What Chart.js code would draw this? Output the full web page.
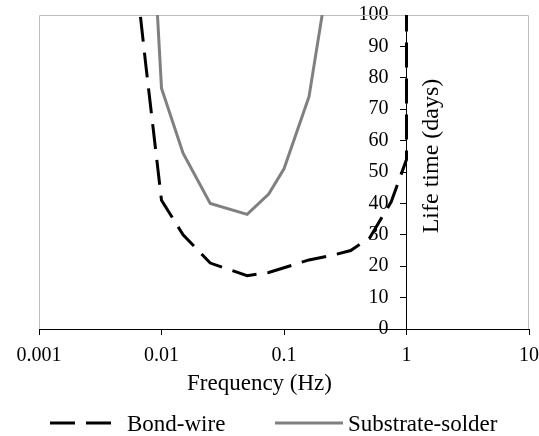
<!DOCTYPE html>
<html>
<head>
<meta charset="utf-8">
<script src="https://cdn.jsdelivr.net/npm/chart.js@4/dist/chart.umd.min.js"></script>
<style>
  html, body { margin: 0; padding: 0; background: #fff; }
  #wrap { width: 539px; height: 436px; position: relative; }
</style>
</head>
<body>
<div id="wrap"><canvas id="c" width="539" height="436"></canvas></div>
<script>
// ---- data ----
const bondFreq   = [0.005, 0.0075, 0.01, 0.015, 0.025, 0.05, 0.075, 0.1, 0.16, 0.25, 0.35, 0.5, 0.75, 1, 1];
const bondLife   = [145,   83,     41,   30,    21,    17,   18,    19.5, 22,  23.5, 25,   29,  40.5, 54, 160];
const solderFreq = [0.0075, 0.01, 0.015, 0.025, 0.05, 0.075, 0.1, 0.16, 0.25];
const solderLife = [165,    76.7, 56,    40,    36.5, 43,    51,  74,   121];
const xTickValues = [0.001, 0.01, 0.1, 1, 10];
const xTickLabels = ['0.001', '0.01', '0.1', '1', '10'];
const seriesNames = ['Bond-wire', 'Substrate-solder'];
const xTitle = 'Frequency (Hz)';
const yTitle = 'Life time (days)';

const SERIF = '"Liberation Serif", "Times New Roman", serif';

const framePlugin = {
  id: 'frame',
  beforeDatasetsDraw(chart) {
    const {ctx, chartArea: a} = chart;
    ctx.save();
    ctx.strokeStyle = '#bfbfbf';
    ctx.lineWidth = 1;
    ctx.beginPath();
    ctx.moveTo(Math.round(a.left) + 0.5, Math.round(a.bottom));
    ctx.lineTo(Math.round(a.left) + 0.5, Math.round(a.top) + 0.5);
    ctx.lineTo(Math.round(a.right) - 0.5, Math.round(a.top) + 0.5);
    ctx.lineTo(Math.round(a.right) - 0.5, Math.round(a.bottom));
    ctx.stroke();
    ctx.restore();
  },
  afterDraw(chart) {
    const {ctx} = chart;
    ctx.save();
    ctx.fillStyle = '#000';
    // x title
    ctx.font = '23px ' + SERIF;
    ctx.textAlign = 'center';
    ctx.textBaseline = 'alphabetic';
    ctx.fillText(xTitle, 259.5, 390);
    // y title
    ctx.save();
    ctx.font = '24px ' + SERIF;
    ctx.translate(438, 156);
    ctx.rotate(-Math.PI / 2);
    ctx.fillText(yTitle, 0, 0);
    ctx.restore();
    // legend
    const ds = chart.data.datasets;
    const items = [
      {x1: 50, x2: 112, tx: 127},
      {x1: 275, x2: 343, tx: 348}
    ];
    const ly = 423;
    items.forEach((it, i) => {
      ctx.save();
      ctx.strokeStyle = ds[i].borderColor;
      ctx.lineWidth = ds[i].borderWidth;
      ctx.setLineDash(ds[i].borderDash || []);
      ctx.beginPath();
      ctx.moveTo(it.x1, ly);
      ctx.lineTo(it.x2, ly);
      ctx.stroke();
      ctx.restore();
      ctx.textAlign = 'left';
      ctx.textBaseline = 'alphabetic';
      ctx.fillText(seriesNames[i], it.tx, ly + 8);
    });
    ctx.restore();
  }
};

new Chart(document.getElementById('c'), {
  type: 'line',
  data: {
    datasets: [
      {
        label: seriesNames[0],
        data: bondFreq.map((f, i) => ({x: f, y: bondLife[i]})),
        borderColor: '#000000',
        borderWidth: 3,
        borderDash: [25, 11],
        pointRadius: 0,
        fill: false,
        tension: 0
      },
      {
        label: seriesNames[1],
        data: solderFreq.map((f, i) => ({x: f, y: solderLife[i]})),
        borderColor: '#808080',
        borderWidth: 3,
        pointRadius: 0,
        fill: false,
        tension: 0
      }
    ]
  },
  options: {
    responsive: false,
    animation: false,
    devicePixelRatio: 1,
    layout: { padding: { left: 39, right: 10, top: 15, bottom: 59 } },
    plugins: { legend: { display: false }, tooltip: { enabled: false } },
    scales: {
      x: {
        type: 'logarithmic',
        min: 0.001,
        max: 10,
        afterBuildTicks: (scale) => { scale.ticks = xTickValues.map(v => ({value: v})); },
        afterFit: (scale) => { scale.paddingLeft = 0; scale.paddingRight = 0; },
        ticks: {
          callback: (v, i) => xTickLabels[i],
          font: { family: SERIF, size: 20 },
          color: '#000',
          padding: 9,
          maxRotation: 0,
          autoSkip: false
        },
        grid: { drawOnChartArea: false, drawTicks: true, tickLength: 6, color: '#000' },
        border: { display: true, color: '#000', width: 1 }
      },
      y: {
        type: 'linear',
        position: { x: 1 },
        min: 0,
        max: 100,
        ticks: { stepSize: 10, display: false },
        grid: { drawOnChartArea: false, drawTicks: true, tickLength: 6, color: '#000' },
        border: { display: true, color: '#000', width: 1 }
      },
      y2: {
        type: 'linear',
        axis: 'y',
        position: { x: 0.713 },
        min: 0,
        max: 100,
        ticks: { stepSize: 10, font: { family: SERIF, size: 20 }, color: '#000' },
        grid: { display: false },
        border: { display: false }
      }
    }
  },
  plugins: [framePlugin]
});
</script>
</body>
</html>
